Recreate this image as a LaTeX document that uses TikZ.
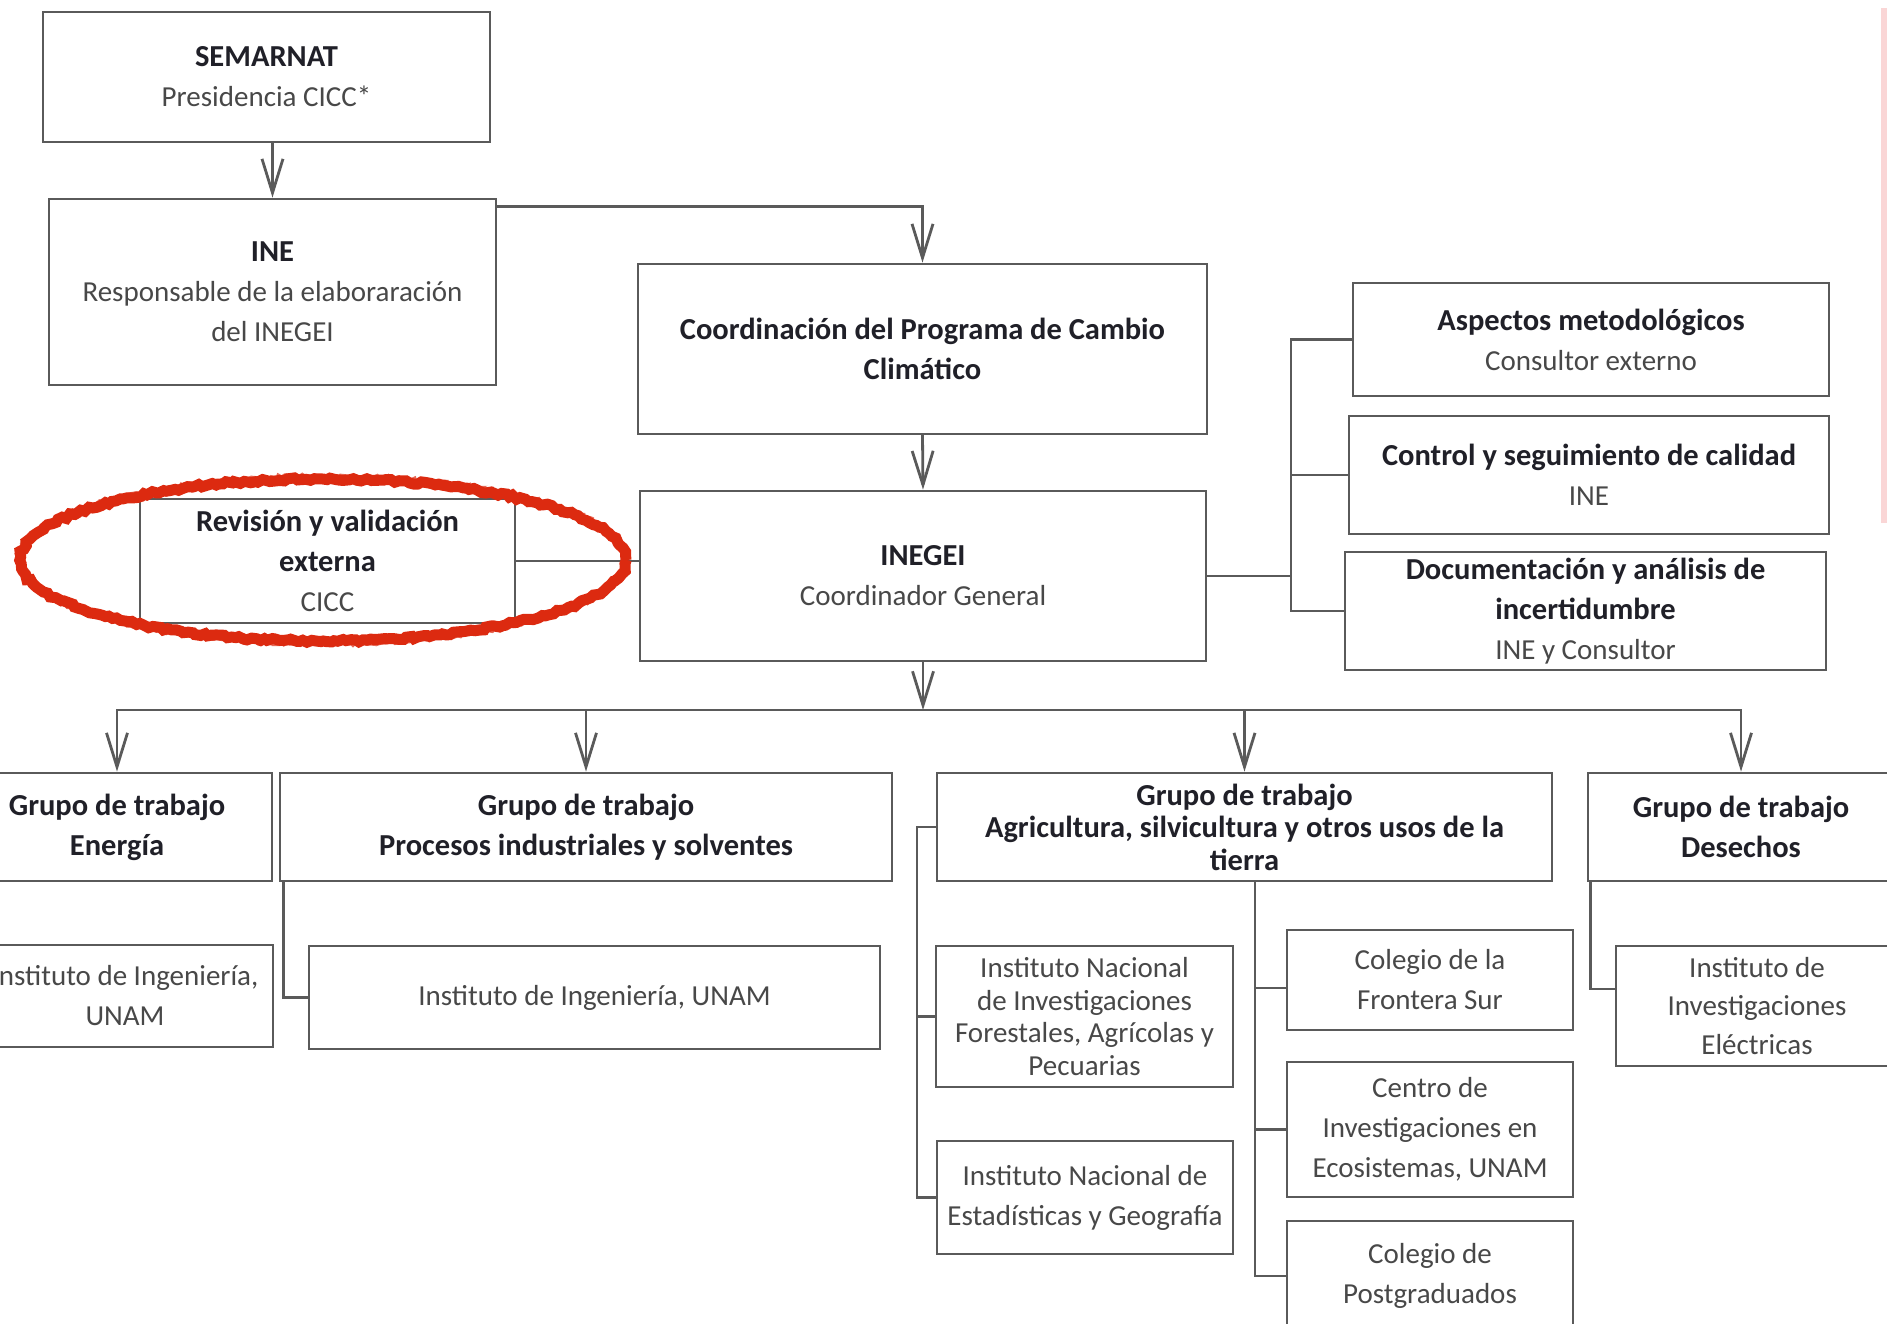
\documentclass[tikz,border=0pt]{standalone}
\usepackage{fontspec}
\setmainfont{Carlito}
\usetikzlibrary{arrows.meta,decorations.pathmorphing}

\definecolor{boxgray}{HTML}{5A5A5A}
\definecolor{titlecol}{HTML}{202028}
\definecolor{subgray}{HTML}{484848}
\definecolor{markred}{HTML}{DC2A10}
\definecolor{barpink}{HTML}{FAD6D6}

\newcommand{\ttl}[1]{{\fontsize{30.5}{40}\selectfont\bfseries\color{titlecol}#1}}

\tikzset{
  box/.style={draw=boxgray, line width=2.8pt, fill=white, align=center, inner sep=2pt, text=subgray, font=\fontsize{29}{40}\selectfont},
  tight/.style={font=\fontsize{29}{32.5}\selectfont},
  link/.style={draw=boxgray, line width=2.8pt, line cap=rect},
  arr/.style={link, -{Straight Barb[length=34pt, width=21pt]}},
}

\begin{document}
\begin{tikzpicture}[x=1pt, y=-1pt]

				\useasboundingbox (0,0) rectangle (1887,1323);
				\clip (0,0) rectangle (1887,1323);
				\pgfmathsetseed{7}

				\def\yg{827}
				\def\xs{1291}
				\def\xl{917}

				%top chain
				\node[box, minimum width=447pt, minimum height=130pt] (semarnat) at (266.5,77) {\ttl{SEMARNAT}\\Presidencia CICC*};
				\node[box, minimum width=447pt, minimum height=186pt] (ine) at (272.5,292) {\ttl{INE}\\Responsable de la elaboraración\\del INEGEI};
				\node[box, minimum width=569pt, minimum height=170pt] (coord) at (922.5,349) {\ttl{Coordinación del Programa de Cambio}\\\ttl{Climático}};
				\node[box, minimum width=566pt, minimum height=170pt] (inegei) at (923,576) {\ttl{INEGEI}\\Coordinador General};
				\node[box, minimum width=375pt, minimum height=124pt] (rev) at (327.5,561) {\ttl{Revisión y validación}\\\ttl{externa}\\CICC};

				%support boxes
				\node[box, minimum width=476pt, minimum height=113pt] (asp) at (1591,339.5) {\ttl{Aspectos metodológicos}\\Consultor externo};
				\node[box, minimum width=480pt, minimum height=118pt] (ctrl) at (1589,475) {\ttl{Control y seguimiento de calidad}\\INE};
				\node[box, minimum width=481pt, minimum height=118pt] (doc) at (1585.5,611) {\ttl{Documentación y análisis de}\\\ttl{incertidumbre}\\INE y Consultor};

				%working groups
				\node[box, minimum width=310pt, minimum height=108pt] (energia) at (117,\yg) {\ttl{Grupo de trabajo}\\\ttl{Energía}};
				\node[box, minimum width=612pt, minimum height=108pt] (procesos) at (586,\yg) {\ttl{Grupo de trabajo}\\\ttl{Procesos industriales y solventes}};
				\node[box, tight, minimum width=615pt, minimum height=108pt] (agri) at (1244.5,\yg) {\ttl{Grupo de trabajo}\\\ttl{Agricultura, silvicultura y otros usos de la}\\\ttl{tierra}};
				\node[box, minimum width=306pt, minimum height=108pt] (desechos) at (1741,\yg) {\ttl{Grupo de trabajo}\\\ttl{Desechos}};

				%institutes
				\node[box, minimum width=296pt, minimum height=102pt] (enesub) at (125,996) {Instituto de Ingeniería,\\UNAM};
				\node[box, minimum width=571pt, minimum height=103pt] (procsub) at (594.5,997.5) {Instituto de Ingeniería, UNAM};
				\node[box, tight, minimum width=297pt, minimum height=141pt] (inifap) at (1084.5,1016.5) {Instituto Nacional\\de Investigaciones\\Forestales, Agrícolas y\\Pecuarias};
				\node[box, minimum width=296pt, minimum height=113pt] (inegi) at (1085,1197.5) {Instituto Nacional de\\Estadísticas y Geografía};
				\node[box, minimum width=286pt, minimum height=100pt] (frontera) at (1430,980) {Colegio de la\\Frontera Sur};
				\node[box, minimum width=286pt, minimum height=135pt] (centro) at (1430,1129.5) {Centro de\\Investigaciones en\\Ecosistemas, UNAM};
				\node[box, minimum width=286pt, minimum height=110pt] (postg) at (1430,1276) {Colegio de\\Postgraduados};
				\node[box, minimum width=282pt, minimum height=120pt, font=\fontsize{29}{38.5}\selectfont] (desub) at (1757,1006) {Instituto de\\Investigaciones\\Eléctricas};

				%top links
				\draw[arr] (semarnat.south -| ine.north) -- (ine.north);
				\draw[arr] ([yshift=-9pt]ine.north east) -| (coord.north);
				\draw[arr] (coord.south) -- (inegei.north);
				\draw[link] (rev.east) -- (rev.east -| inegei.west);

				%side trunk
				\coordinate (side) at (\xs,576);
				\draw[link] (inegei.east) -- (side);
				\draw[link] (asp.west) -| (side) |- (doc.west);
				\draw[link] (ctrl.west) -- (ctrl.west -| side);

				%bus
				\coordinate (bus) at (923,710);
				\draw[arr] (inegei.south) -- (bus);
				\draw[link] (bus -| energia.north) -- (bus -| desechos.north);
				\foreach \g in {energia,procesos,agri,desechos}
					\draw[arr] (bus -| \g.north) -- (\g.north);

				%group links
				\draw[link] ([xshift=5pt]procesos.south west) |- (procsub.west);
				\coordinate (lt) at (\xl,\yg);
				\draw[link] (agri.west) -- (lt) |- (inegi.west);
				\draw[link] (inifap.west) -- (inifap.west -| lt);
				\draw[link] ([xshift=10.5pt]agri.south) coordinate (rt) |- (postg.west);
				\draw[link] ([yshift=-8pt]frontera.west) -- ([yshift=-8pt]frontera.west -| rt);
				\draw[link] (centro.west) -- (centro.west -| rt);
				\draw[link] ([xshift=4pt]desechos.south west) |- ([yshift=17pt]desub.west);

				%marker
				\draw[markred, line width=11pt, decorate, decoration={random steps, segment length=4pt, amplitude=1.5pt}] (323,560) ellipse [x radius=303pt, y radius=81pt];
				\draw[markred, line width=3pt, opacity=0.7, decorate, decoration={random steps, segment length=3pt, amplitude=2pt}] (323,560) ellipse [x radius=305pt, y radius=84pt];
				\fill[barpink] (1881,8) rectangle (1887,523);

\end{tikzpicture}
\end{document}
